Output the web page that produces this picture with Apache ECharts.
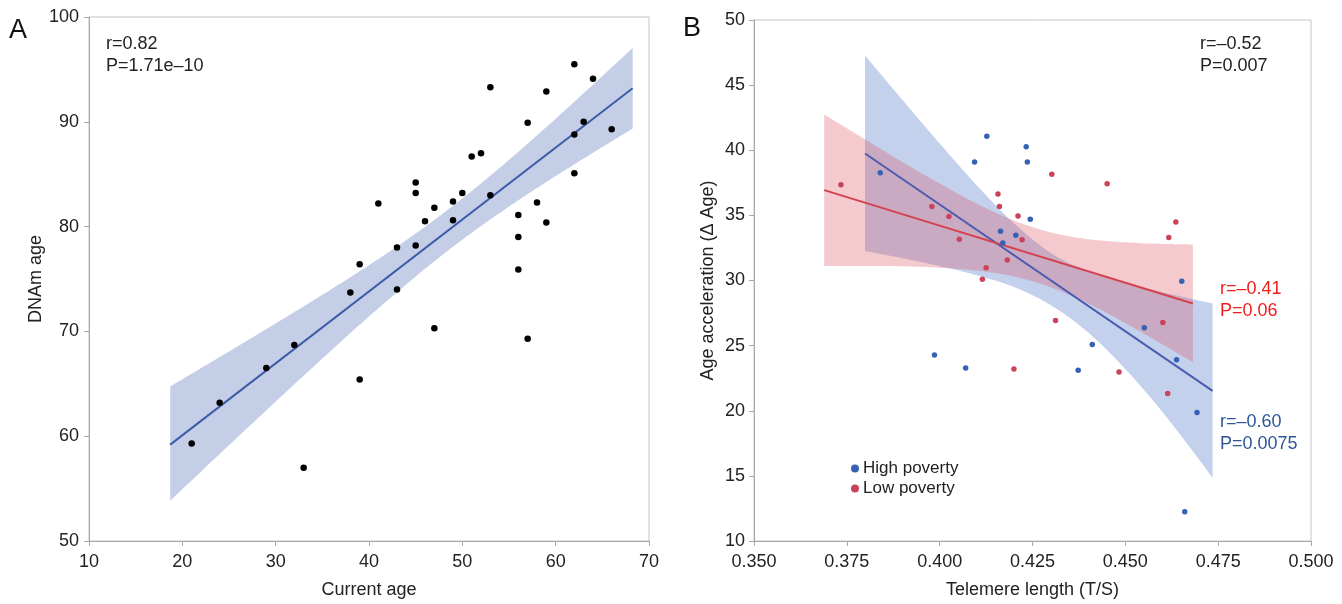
<!DOCTYPE html>
<html>
<head>
<meta charset="utf-8">
<script src="https://cdn.jsdelivr.net/npm/echarts@6/dist/echarts.min.js"></script>
<style>
html,body{margin:0;padding:0;background:#fff;}
#c{width:1342px;height:604px;}
</style>
</head>
<body>
<div id="c"></div>
<script>
// ---------- Panel A data ----------
const aAgeX = [21,24,29,32,33,38,39,39,41,43,43,45,45,45,46,47,47,49,49,50,51,52,53,53,56,56,56,57,57,58,59,59,62,62,62,63,64,66];
const aDnamY = [59.3,63.2,66.5,68.7,57.0,73.7,65.4,76.4,82.2,78.0,74.0,84.2,83.2,78.2,80.5,81.8,70.3,82.4,80.6,83.2,86.7,87.0,93.3,83.0,81.1,79.0,75.9,89.9,69.3,82.3,92.9,80.4,95.5,88.8,85.1,90.0,94.1,89.3];
const aFitX = [18.7, 68.25];
const aFitY = [59.2, 93.2];
const aBandX = [18.7, 25, 30, 35, 40, 45, 50, 55, 60, 65, 68.25];
const aBandUp = [64.75, 68.08, 70.76, 73.49, 76.32, 79.34, 82.69, 86.37, 90.30, 94.37, 97.05];
const aBandLo = [53.85, 59.14, 63.30, 67.41, 71.42, 75.24, 78.75, 81.91, 84.82, 87.59, 89.35];
const aXTicks = [10, 70, 10];   // min, max, interval
const aYTicks = [50, 100, 10];

// ---------- Panel B data ----------
const hiX = [0.4127,0.4233,0.4094,0.4236,0.3840,0.4244,0.4164,0.4205,0.4170,0.3986,0.4070,0.4652,0.4551,0.4411,0.4638,0.4373,0.4693,0.4660];
const hiY = [41.07,40.26,39.09,39.09,38.27,34.70,33.79,33.48,32.87,24.28,23.28,29.94,26.37,25.09,23.92,23.10,19.87,12.24];
const loX = [0.3734,0.4157,0.4161,0.3979,0.4025,0.4211,0.4053,0.4222,0.4182,0.4125,0.4115,0.4200,0.4302,0.4451,0.4636,0.4617,0.4312,0.4601,0.4483,0.4614];
const loY = [37.36,36.64,35.68,35.68,34.91,34.96,33.17,33.12,31.57,30.98,30.09,23.20,38.15,37.43,34.50,33.30,26.93,26.77,22.98,21.32];
const hiFitX = [0.3799, 0.4735];
const hiFitY = [39.75, 21.53];
const loFitX = [0.3689, 0.4682];
const loFitY = [36.94, 28.23];
const hiBandX = [0.3799,0.39,0.40,0.41,0.42,0.43,0.44,0.45,0.46,0.47,0.4735];
const hiBandUp = [47.27,43.85,40.52,37.30,34.40,32.10,30.70,29.80,29.10,28.45,28.24];
const hiBandLo = [32.26,31.71,31.10,30.40,29.50,28.10,26.00,23.20,19.90,16.20,14.82];
const loBandX = [0.3689,0.38,0.39,0.40,0.41,0.42,0.43,0.44,0.45,0.46,0.4682];
const loBandUp = [42.74,40.82,39.09,37.44,35.90,34.61,33.69,33.17,32.93,32.81,32.77];
const loBandLo = [31.12,31.12,31.09,30.98,30.76,30.31,29.47,28.23,26.73,25.09,23.73];
const bXTicks = [0.350, 0.500, 0.025];
const bYTicks = [10, 50, 5];

const FONT = '"Liberation Sans", Arial, Helvetica, sans-serif';
const AX = '#a8a8a8';

function zip(xs, ys){ return xs.map((x,i)=>[x, ys[i]]); }

// Catmull-Rom smoothing of an already projected pixel polyline (drawing only)
function smoothPx(P){
  const out = [];
  const n = P.length;
  for (let i=0;i<n-1;i++){
    const p0 = P[Math.max(0,i-1)], p1 = P[i], p2 = P[i+1], p3 = P[Math.min(n-1,i+2)];
    const steps = 12;
    for (let s=0;s<steps;s++){
      const t = s/steps, t2=t*t, t3=t2*t;
      const f = k => 0.5*((2*p1[k]) + (-p0[k]+p2[k])*t + (2*p0[k]-5*p1[k]+4*p2[k]-p3[k])*t2 + (-p0[k]+3*p1[k]-3*p2[k]+p3[k])*t3);
      out.push([f(0), f(1)]);
    }
  }
  out.push(P[n-1]);
  return out;
}

function band(xs, up, lo, color, gi){
  return {
    type:'custom', xAxisIndex:gi, yAxisIndex:gi, silent:true, z:1,
    data:[[xs[0], up[0]]],
    renderItem:function(params, api){
      const U = smoothPx(xs.map((x,i)=>api.coord([x, up[i]])));
      const L = smoothPx(xs.map((x,i)=>api.coord([x, lo[i]])));
      const pts = U.concat(L.reverse());
      return {type:'polygon', shape:{points:pts}, style:{fill:color}};
    }
  };
}
function fit(xs, ys, color, gi){
  return {type:'line', xAxisIndex:gi, yAxisIndex:gi, data:zip(xs,ys), symbol:'none', silent:true, z:3,
    lineStyle:{color:color, width:2}};
}
function axisCommon(t, fmt, margin){
  return {
    type:'value', min:t[0], max:t[1], interval:t[2],
    axisLine:{show:true, lineStyle:{color:AX, width:1}},
    axisTick:{show:true, length:5, lineStyle:{color:AX}},
    splitLine:{show:false},
    axisLabel:{color:'#222', fontSize:18, fontFamily:FONT, formatter:fmt, margin:margin},
    nameTextStyle:{color:'#222', fontSize:18, fontFamily:FONT},
    nameLocation:'middle'
  };
}

const chart = echarts.init(document.getElementById('c'), null, {renderer:'canvas'});
const fmtB = v => v.toFixed(3);
const option = {
  animation:false,
  backgroundColor:'#fff',
  grid:[
    {left:89, top:17, width:560, height:525, show:true, borderColor:'#c4c4c4', borderWidth:1, containLabel:false},
    {left:754, top:20, width:557, height:523, show:true, borderColor:'#c4c4c4', borderWidth:1, containLabel:false}
  ],
  xAxis:[
    Object.assign(axisCommon(aXTicks, undefined, 12), {gridIndex:0, name:'Current age', nameGap:40}),
    Object.assign(axisCommon(bXTicks, fmtB, 12), {gridIndex:1, name:'Telemere length (T/S)', nameGap:40})
  ],
  yAxis:[
    Object.assign(axisCommon(aYTicks, undefined, 10), {gridIndex:0, name:'DNAm age', nameGap:43}),
    Object.assign(axisCommon(bYTicks, undefined, 9), {gridIndex:1, name:'Age acceleration (Δ Age)', nameGap:37})
  ],
  legend:{
    orient:'vertical', left:846, top:455, itemWidth:8, itemHeight:8, itemGap:3, icon:'circle',
    textStyle:{color:'#222', fontSize:17, fontFamily:FONT, padding:[0,0,0,-1]},
    data:['High poverty','Low poverty']
  },
  series:[
    band(aBandX, aBandUp, aBandLo, 'rgba(70,105,180,0.32)', 0),
    fit(aFitX, aFitY, '#3d5ca8', 0),
    {type:'scatter', name:'A', xAxisIndex:0, yAxisIndex:0, data:zip(aAgeX, aDnamY), symbolSize:6.5,
      itemStyle:{color:'#000', opacity:1}, z:4},
    band(hiBandX, hiBandUp, hiBandLo, 'rgba(60,105,195,0.31)', 1),
    band(loBandX, loBandUp, loBandLo, 'rgba(220,80,95,0.30)', 1),
    fit(hiFitX, hiFitY, '#4a5cb0', 1),
    fit(loFitX, loFitY, '#d5424f', 1),
    {type:'scatter', name:'High poverty', xAxisIndex:1, yAxisIndex:1, data:zip(hiX, hiY), symbolSize:5.5,
      itemStyle:{color:'#3562b4', opacity:1}, z:4},
    {type:'scatter', name:'Low poverty', xAxisIndex:1, yAxisIndex:1, data:zip(loX, loY), symbolSize:5.5,
      itemStyle:{color:'#c9445a', opacity:1}, z:4}
  ],
  graphic:[
    {type:'text', left:9, top:17, style:{text:'A', font:'27px '+FONT, fill:'#111'}},
    {type:'text', left:683, top:15, style:{text:'B', font:'27px '+FONT, fill:'#111'}},
    {type:'text', left:106, top:33, style:{text:'r=0.82\nP=1.71e–10', font:'18px '+FONT, fill:'#222', lineHeight:22}},
    {type:'text', left:1200, top:33, style:{text:'r=–0.52\nP=0.007', font:'18px '+FONT, fill:'#222', lineHeight:22}},
    {type:'text', left:1220, top:278, style:{text:'r=–0.41\nP=0.06', font:'18px '+FONT, fill:'#f01c1c', lineHeight:22}},
    {type:'text', left:1220, top:411, style:{text:'r=–0.60\nP=0.0075', font:'18px '+FONT, fill:'#2d5699', lineHeight:22}}
  ]
};
chart.setOption(option);
</script>
</body>
</html>
